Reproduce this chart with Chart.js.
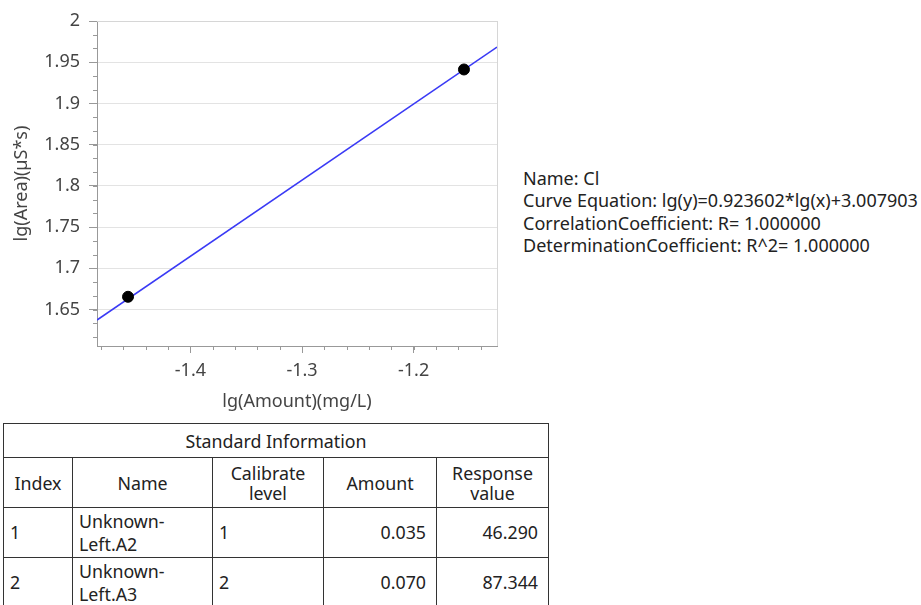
<!DOCTYPE html>
<html>
<head>
<meta charset="utf-8">
<script src="https://cdn.jsdelivr.net/npm/chart.js@4.4.0/dist/chart.umd.min.js"></script>
<style>
  body { margin: 0; background: #fff; font-family: "Noto Sans", sans-serif; }
  #wrap { position: relative; width: 921px; height: 605px; overflow: hidden; }
  #curve { position: absolute; left: 0; top: 0; }
  #info { position: absolute; left: 523px; top: 167px; font-size: 18px; line-height: 22.4px; color: #222; white-space: nowrap; }
  #std { position: absolute; left: 3px; top: 423px; border-collapse: collapse; table-layout: fixed; font-size: 17.8px; color: #222; }
  #std td { border: 1px solid #333; padding: 0 6px; white-space: nowrap; }
  #std .head td { height: 33px; text-align: center; }
  #std .cols td { height: 49px; text-align: center; line-height: 20px; }
  #std .row td { height: 49px; line-height: 23px; }
  #std .num { text-align: right; padding-right: 10px; }
</style>
</head>
<body>
<div id="wrap">
  <canvas id="curve" width="510" height="420"></canvas>
  <div id="info"></div>
  <table id="std"></table>
</div>
<script>
// standard points: lg(amount), lg(area)
var lgAmount = [-1.4559, -1.1549];
var lgArea = [1.6655, 1.9412];
// fitted line ends, read at the plot edges
var fitX = [-1.4837, -1.1253];
var fitY = [1.6373, 1.9684];
var xTicks = [-1.4, -1.3, -1.2];
var xTickLabels = ['-1.4', '-1.3', '-1.2'];
var yTicks = [1.65, 1.7, 1.75, 1.8, 1.85, 1.9, 1.95, 2];
var yTickLabels = ['1.65', '1.7', '1.75', '1.8', '1.85', '1.9', '1.95', '2'];

var infoLines = [
  'Name: Cl',
  'Curve Equation: lg(y)=0.923602*lg(x)+3.007903',
  'CorrelationCoefficient: R= 1.000000',
  'DeterminationCoefficient: R^2= 1.000000'
];
var colNames = ['Index', 'Name', 'Calibrate<br>level', 'Amount', 'Response<br>value'];
var colWidths = [69, 140, 111, 113, 112];
var stdIndex = ['1', '2'];
var stdName = ['Unknown-<br>Left.A2', 'Unknown-<br>Left.A3'];
var stdLevel = ['1', '2'];
var stdAmount = ['0.035', '0.070'];
var stdResponse = ['46.290', '87.344'];

document.getElementById('info').innerHTML = infoLines.join('<br>');

var html = '<colgroup>' + colWidths.map(function (w) { return '<col style="width:' + w + 'px">'; }).join('') + '</colgroup>';
html += '<tr class="head"><td colspan="5">Standard Information</td></tr>';
html += '<tr class="cols">' + colNames.map(function (c) { return '<td>' + c + '</td>'; }).join('') + '</tr>';
for (var i = 0; i < stdIndex.length; i++) {
  html += '<tr class="row"><td>' + stdIndex[i] + '</td><td>' + stdName[i] + '</td><td>' + stdLevel[i] +
    '</td><td class="num">' + stdAmount[i] + '</td><td class="num">' + stdResponse[i] + '</td></tr>';
}
document.getElementById('std').innerHTML = html;

// short minor ticks + light frame on top/right
var extras = {
  id: 'extras',
  afterDraw: function (chart) {
    var c = chart.ctx, a = chart.chartArea;
    var xs = chart.scales.x, ys = chart.scales.y;
    c.save();
    c.strokeStyle = '#d6d6d6';
    c.lineWidth = 1;
    c.beginPath();
    c.moveTo(a.left, a.top + 0.5); c.lineTo(a.right + 0.5, a.top + 0.5);
    c.moveTo(a.right + 0.5, a.top); c.lineTo(a.right + 0.5, a.bottom);
    c.stroke();
    c.strokeStyle = '#999';
    c.beginPath();
    for (var k = 0; k < 40; k++) {
      var v = -1.5 + k * 0.02;
      if (v < xs.min || v > xs.max) continue;
      var px = Math.round(xs.getPixelForValue(v)) + 0.5;
      c.moveTo(px, a.bottom); c.lineTo(px, a.bottom + 4);
    }
    for (var j = 0; j < 40; j++) {
      var w = 1.6 + j * 0.05 / 3;
      if (w < ys.min || w > ys.max) continue;
      var py = Math.round(ys.getPixelForValue(w)) + 0.5;
      c.moveTo(a.left - 4, py); c.lineTo(a.left, py);
    }
    c.stroke();
    c.restore();
  }
};

var tickFont = { family: 'Noto Sans', size: 18 };

var ctx = document.getElementById('curve').getContext('2d');
var chart = new Chart(ctx, {
  type: 'scatter',
  data: {
    datasets: [{
      data: lgAmount.map(function (x, i) { return { x: x, y: lgArea[i] }; }),
      backgroundColor: '#000',
      borderColor: '#000',
      pointRadius: 5.5,
      order: 0
    }, {
      data: fitX.map(function (x, i) { return { x: x, y: fitY[i] }; }),
      showLine: true,
      borderColor: '#3a3af5',
      borderWidth: 1.5,
      pointRadius: 0,
      order: 1
    }]
  },
  options: {
    responsive: false,
    animation: false,
    layout: { padding: { top: 21, right: 13, left: 0, bottom: 0 } },
    plugins: { legend: { display: false }, tooltip: { enabled: false } },
    scales: {
      x: {
        type: 'linear',
        min: -1.4837,
        max: -1.1253,
        afterBuildTicks: function (s) { s.ticks = xTicks.map(function (v) { return { value: v }; }); },
        afterFit: function (s) { s.height = 74; },
        ticks: {
          color: '#444', padding: 7, font: tickFont,
          callback: function (v, i) { return xTickLabels[i]; }
        },
        grid: { drawOnChartArea: false, tickLength: 7, tickColor: '#999' },
        border: { color: '#999' },
        title: { display: true, text: 'lg(Amount)(mg/L)', color: '#444', font: tickFont, padding: { top: 0, bottom: 7 } }
      },
      y: {
        type: 'linear',
        min: 1.6058,
        max: 2,
        afterBuildTicks: function (s) { s.ticks = yTicks.map(function (v) { return { value: v }; }); },
        afterFit: function (s) { s.width = 97; },
        ticks: {
          color: '#444', padding: 9, font: tickFont,
          callback: function (v, i) { return yTickLabels[i]; }
        },
        grid: { color: '#e3e3e3', tickLength: 8, tickColor: '#999' },
        border: { color: '#999' },
        title: { display: true, text: 'lg(Area)(µS*s)', color: '#444', font: tickFont, padding: { top: 11, bottom: 0 } }
      }
    }
  },
  plugins: [extras]
});
</script>
</body>
</html>
